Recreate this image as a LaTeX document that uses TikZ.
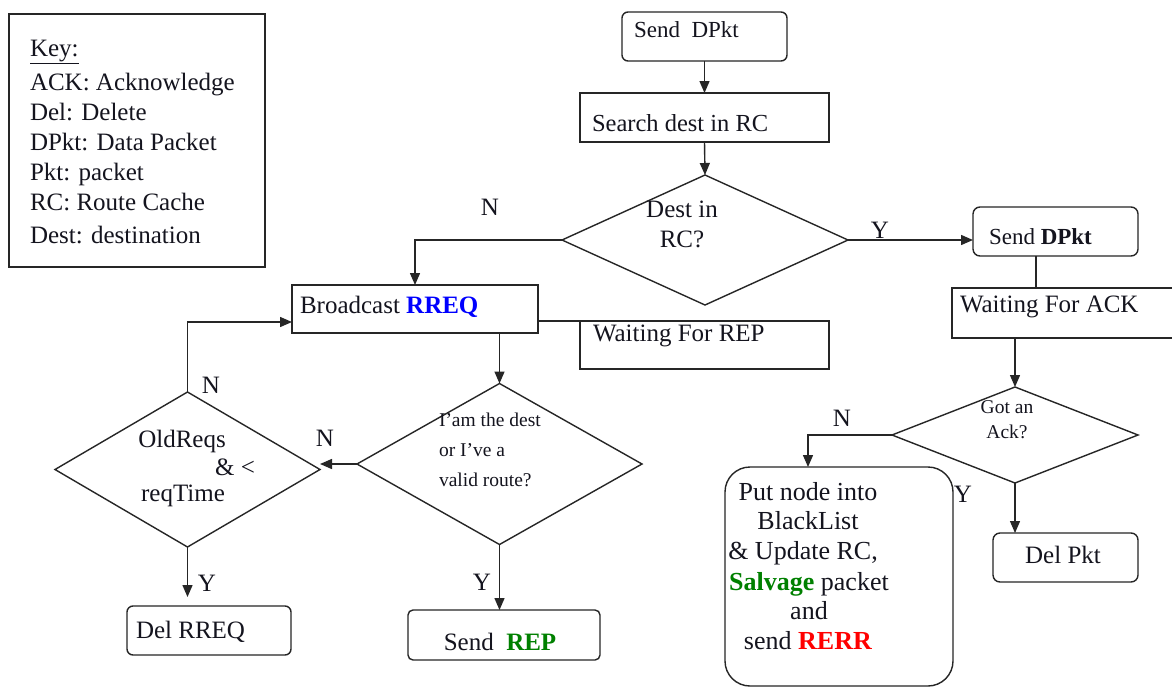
\documentclass[tikz,border=0pt]{standalone}
\usepackage{fontspec}
\setmainfont{Liberation Serif}
\usetikzlibrary{shapes.geometric,arrows.meta}
\definecolor{rblue}{RGB}{0,0,255}
\definecolor{rgreen}{RGB}{0,128,0}
\definecolor{rred}{RGB}{255,0,0}
\definecolor{ink}{RGB}{20,20,30}
\newcommand\fsmain{\fontsize{25}{30}\selectfont}
\newcommand\fsmid{\fontsize{23}{28}\selectfont}
\newcommand\fsbig{\fontsize{26}{30}\selectfont}
\newcommand\fssmall{\fontsize{19.5}{22}\selectfont}
\tikzset{
  box/.style={draw=black!85, line width=1.4pt, inner sep=0pt, outer sep=0pt, anchor=north west},
  dmd/.style={draw=black!85, line width=1.4pt, diamond, inner sep=0pt, outer sep=0pt},
  ln/.style={draw=black!85, line width=1.4pt},
  arr/.style={ln, -{Triangle[length=12pt,width=10pt]}},
  txt/.style={inner sep=0pt, outer sep=0pt, text=ink, font=\fsmain, yshift=-5.5pt},
}
\begin{document}
\begin{tikzpicture}[x=1pt,y=-1pt]
\useasboundingbox (0,0) rectangle (1172,688);
\fill[white] (0,0) rectangle (1172,688);

% key
\node[box, minimum width=256pt, minimum height=253pt] (key) at (9,14) {};
\node[txt, anchor=mid west] (k0) at (30,49) {\underline{Key:}};
\node[txt, anchor=mid west] (k1) at (30,83) {ACK: Acknowledge};
\node[txt, anchor=mid west] (k2) at (30,113) {Del: Delete};
\node[txt, anchor=mid west] (k3) at (30,143) {DPkt: Data Packet};
\node[txt, anchor=mid west] (k4) at (30,173) {Pkt: packet};
\node[txt, anchor=mid west] (k5) at (30,203) {RC: Route Cache};
\node[txt, anchor=mid west] (k6) at (30,236) {Dest: destination};

% boxes
\node[box, rounded corners=6pt, minimum width=165pt, minimum height=49pt] (send1) at (622,12) {};
\node[box, minimum width=249pt, minimum height=49pt] (search) at (580,93) {};
\node[box, rounded corners=7pt, minimum width=165pt, minimum height=49pt] (send2) at (973,207) {};
\node[box, minimum width=226pt, minimum height=50pt] (waitack) at (952,288) {};
\node[box, minimum width=246pt, minimum height=48pt] (bcast) at (292,285) {};
\node[box, minimum width=249pt, minimum height=48pt] (waitrep) at (580,321) {};
\node[box, rounded corners=7pt, minimum width=145pt, minimum height=49pt] (delpkt) at (993,533) {};
\node[box, rounded corners=25pt, minimum width=228pt, minimum height=219pt] (big) at (725,467) {};
\node[box, rounded corners=6pt, minimum width=164pt, minimum height=49pt] (delrreq) at (127,606) {};
\node[box, rounded corners=5pt, minimum width=192pt, minimum height=50pt] (sendrep) at (408,610) {};

% diamonds
\node[dmd, minimum width=286pt, minimum height=130pt] (dest) at (705,240) {};
\node[dmd, minimum width=246pt, minimum height=96pt] (gotack) at (1015,435) {};
\node[dmd, minimum width=285pt, minimum height=161pt] (iam) at (499.5,464) {};
\node[dmd, minimum width=265pt, minimum height=155pt] (old) at (187.5,469.5) {};

% texts in boxes
\node[txt, font=\fsmid, anchor=mid west] (t1) at (634,30) {Send\ \ DPkt};
\node[txt, font=\fontsize{24.5}{29}\selectfont, anchor=mid west] (t2) at (592,124) {Search dest in RC};
\node[txt, font=\fsmid, anchor=mid west] (t3) at (989,237) {Send \textbf{DPkt}};
\node[txt, anchor=mid west] (t4) at (960,305) {Waiting For ACK};
\node[txt, anchor=mid west] (t5) at (300,306) {Broadcast \textcolor{rblue}{\textbf{RREQ}}};
\node[txt, anchor=mid west] (t6) at (593,334) {Waiting For REP};
\node[txt, anchor=mid] (t7) at (1063,556) {Del Pkt};
\node[txt, anchor=mid west] (t8) at (136,631) {Del RREQ};
\node[txt, anchor=mid] (t9) at (500,643) {Send\ \ \textcolor{rgreen}{\textbf{REP}}};

% big box text
\node[txt, font=\fsbig, anchor=mid] (b1) at (808,493) {Put node into};
\node[txt, font=\fsbig, anchor=mid] (b2) at (808,522) {BlackList};
\node[txt, font=\fsbig, anchor=mid] (b3) at (803,552) {\& Update RC,};
\node[txt, font=\fsbig, anchor=mid] (b4) at (809,583) {\textcolor{rgreen}{\textbf{Salvage}} packet};
\node[txt, font=\fsbig, anchor=mid] (b5) at (809,612) {and};
\node[txt, font=\fsbig, anchor=mid] (b6) at (808,642) {send \textcolor{rred}{\textbf{RERR}}};

% diamond texts
\node[txt, anchor=mid] (d1) at (682,210) {Dest in};
\node[txt, anchor=mid] (d2) at (682,240) {RC?};
\node[txt, font=\fssmall, anchor=mid] (d3) at (1007,406) {Got an};
\node[txt, font=\fssmall, anchor=mid] (d4) at (1007,431) {Ack?};
\node[txt, font=\fssmall, anchor=mid west] (d5) at (439,419) {I’am the dest};
\node[txt, font=\fssmall, anchor=mid west] (d6) at (439,449) {or I’ve a};
\node[txt, font=\fssmall, anchor=mid west] (d7) at (439,479) {valid route?};
\node[txt, anchor=mid] (d8) at (182,440) {OldReqs};
\node[txt, anchor=mid] (d9) at (235,468) {\& <};
\node[txt, anchor=mid] (d10) at (183,494) {reqTime};

% branch labels
\node[txt, anchor=mid] (n1) at (490,208) {N};
\node[txt, anchor=mid] (y1) at (880,231) {Y};
\node[txt, anchor=mid] (n2) at (842,419) {N};
\node[txt, anchor=mid] (y2) at (963,495) {Y};
\node[txt, anchor=mid] (n3) at (325,439) {N};
\node[txt, anchor=mid] (n4) at (211,386) {N};
\node[txt, anchor=mid] (y3) at (207,584) {Y};
\node[txt, anchor=mid] (y4) at (482,583) {Y};

% connectors
\draw[arr] (send1.south) -- (search.north);
\draw[arr] (search.south) -- (dest.north);
\draw[arr] (dest.west) -| (bcast.north);
\draw[arr] (dest.east) -- (dest.east -| send2.west);
\draw[ln] ([xshift=-19.5pt]send2.south) -- ([xshift=-19.5pt]send2.south |- waitack.north);
\draw[arr] (gotack.north |- waitack.south) -- (gotack.north);
\draw[arr] (gotack.west) -| ([xshift=-31pt]big.north);
\draw[arr] (gotack.south) -- (gotack.south |- delpkt.north);
\draw[arr] (iam.north |- bcast.south) -- (iam.north);
\draw[ln] (bcast.east |- waitrep.north) -- (waitrep.north west);
\draw[arr] (iam.west) -- (iam.west -| old.east);
\draw[arr] (old.north) |- ([yshift=-13pt]bcast.west);
\draw[arr] (old.south) -- ([yshift=9pt]old.south |- delrreq.north);
\draw[arr] (iam.south) -- (iam.south |- sendrep.north);
\end{tikzpicture}
\end{document}
